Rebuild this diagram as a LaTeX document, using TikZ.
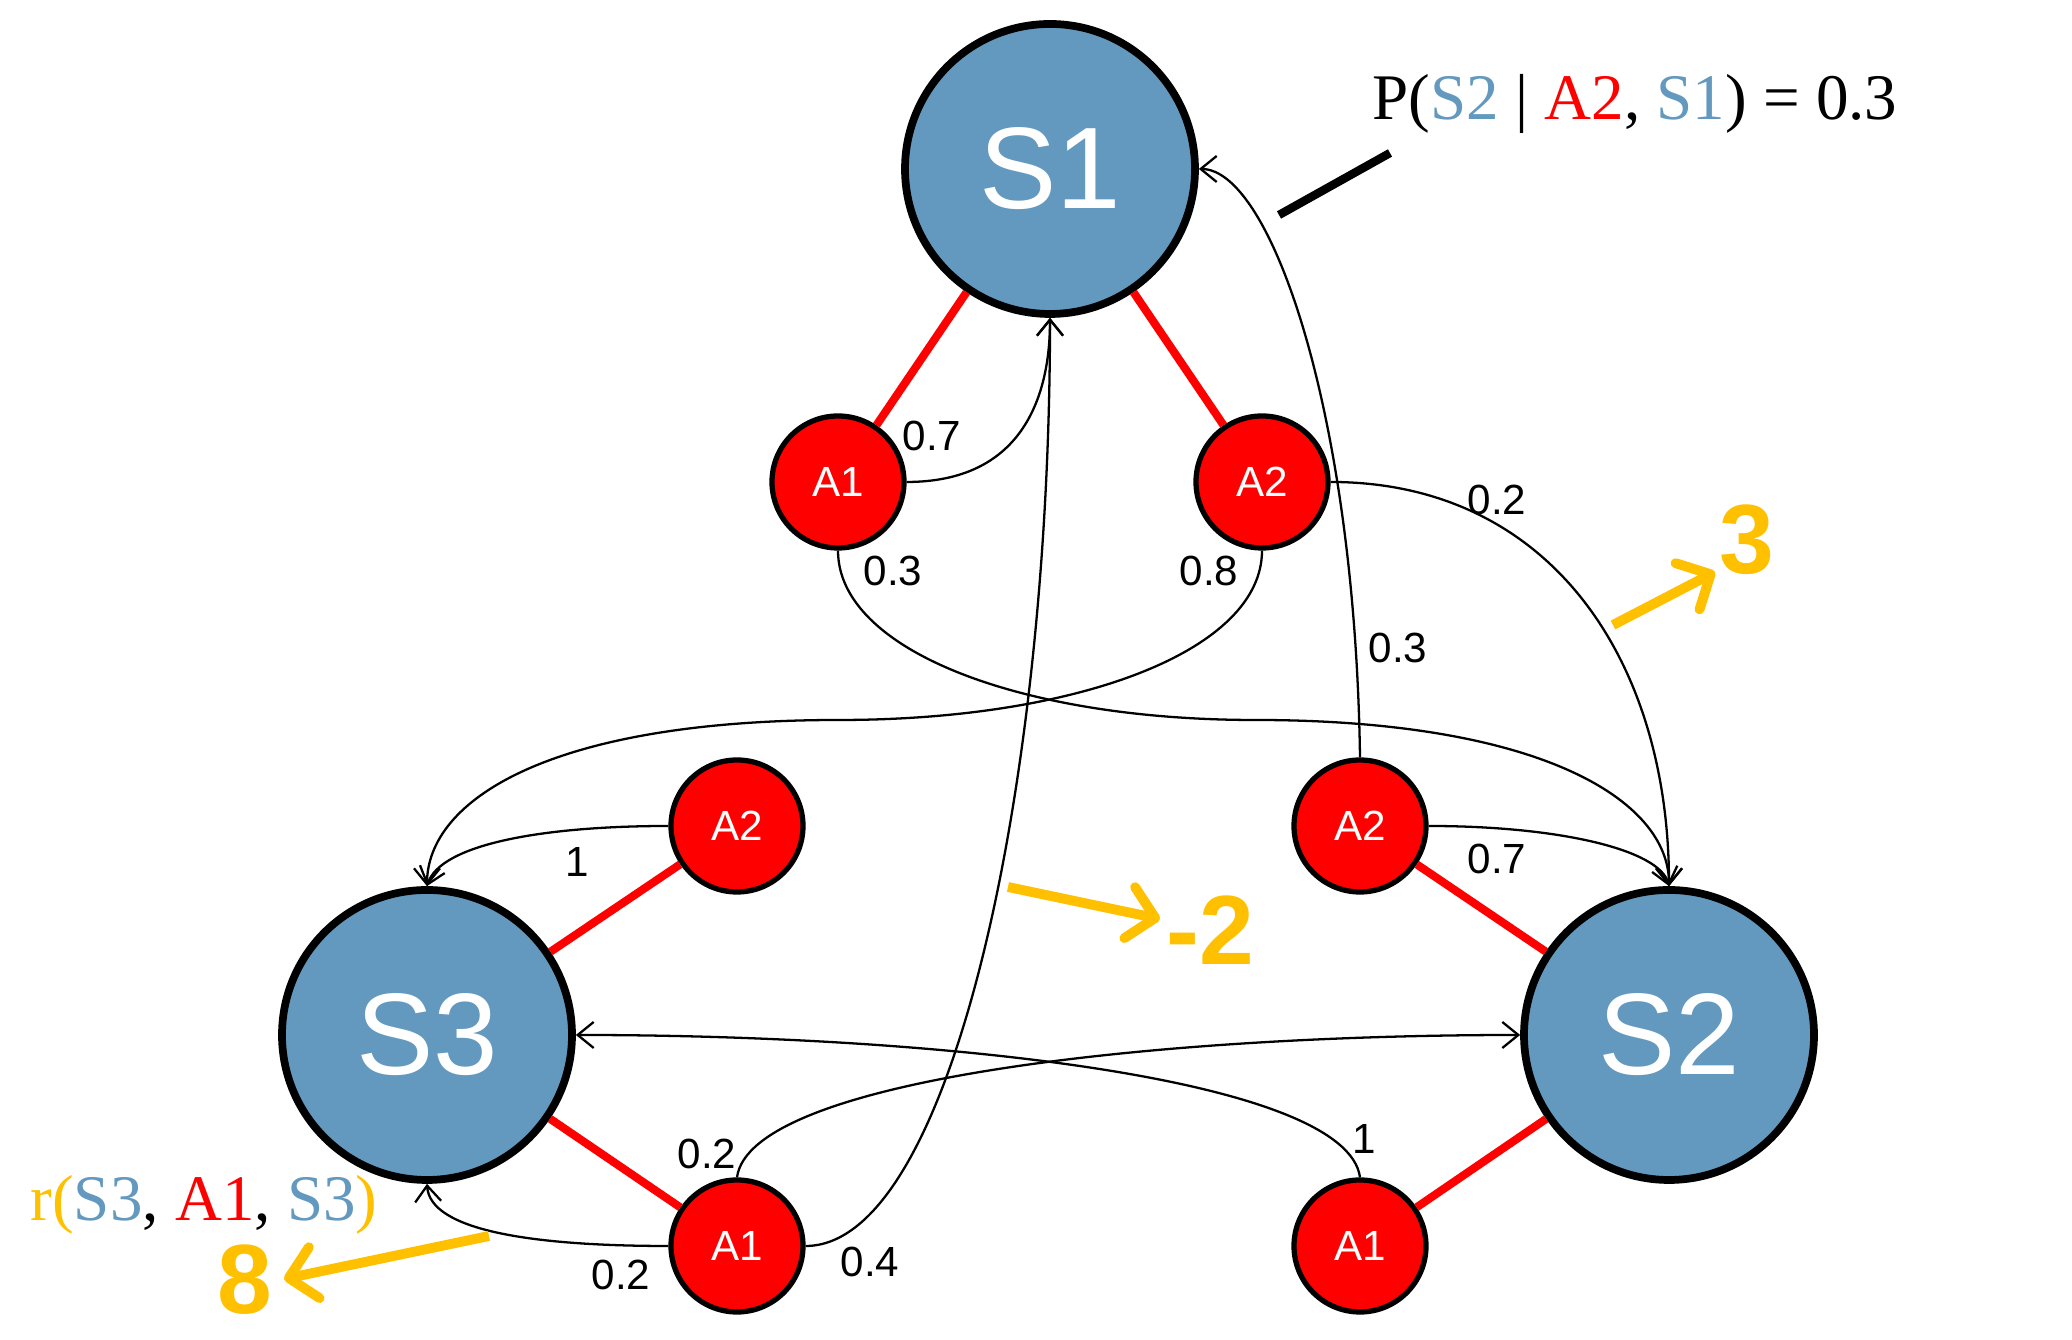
\documentclass[tikz,border=0pt]{standalone}
\usepackage{fontspec}
\setmainfont{Liberation Sans}
\newfontfamily\formulafont{Liberation Serif}
\usepackage{xcolor}
\usepackage{tikz}
\usetikzlibrary{arrows.meta,positioning}
\definecolor{stateblue}{RGB}{99,153,190}
\definecolor{actred}{RGB}{255,0,0}
\definecolor{rewardgold}{RGB}{255,192,0}

\begin{document}
\begin{tikzpicture}[
  state/.style={circle,draw,line width=2.2pt,fill=stateblue,text=white,minimum size=2.9cm,inner sep=0pt,font=\fontsize{33}{38}\selectfont},
  action/.style={circle,draw,line width=1.5pt,fill=actred,text=white,minimum size=1.32cm,inner sep=0pt,font=\fontsize{12}{14}\selectfont},
  choice/.style={actred,line width=2.3pt},
  trans/.style={line width=0.65pt,-{Straight Barb[length=1.6mm,width=2.6mm]}},
  prob/.style={font=\fontsize{12}{14}\selectfont},
  reward/.style={rewardgold,line width=2.8pt,-{Straight Barb[length=2.6mm,width=5.2mm,round]}},
  rval/.style={text=rewardgold,font=\fontsize{28}{32}\selectfont\bfseries},
  formula/.style={font=\formulafont\fontsize{18.5}{22}\selectfont}]
\useasboundingbox (0,0) rectangle (20.72,13.40);

\node[state] (s1) at (10.50,11.71) {S1};
\node[state] (s3) at (4.27,3.05) {S3};
\node[state] (s2) at (16.69,3.05) {S2};

\node[action] (a1t) at (8.38,8.58) {A1};
\node[action] (a2t) at (12.62,8.58) {A2};
\node[action] (a2l) at (7.37,5.14) {A2};
\node[action] (a1l) at (7.37,0.94) {A1};
\node[action] (a2r) at (13.60,5.14) {A2};
\node[action] (a1r) at (13.60,0.94) {A1};

\draw[choice] (s1) -- (a1t);
\draw[choice] (s1) -- (a2t);
\draw[choice] (s3) -- (a2l);
\draw[choice] (s3) -- (a1l);
\draw[choice] (s2) -- (a2r);
\draw[choice] (s2) -- (a1r);

% Transitions
\draw[trans] (a1t.east) .. controls (10.2,8.58) and (10.5,9.4) .. (s1.south);
\draw[trans] (a1t.south) .. controls (8.38,6.9) and (10.2,6.2) .. (12.55,6.2) .. controls (15.4,6.2) and (16.69,5.4) .. (s2.north);
\draw[trans] (a2t.south) .. controls (12.62,6.9) and (10.8,6.2) .. (8.39,6.2) .. controls (5.5,6.2) and (4.27,5.4) .. (s3.north);
\draw[trans] (a2t.east) .. controls (15.5,8.58) and (16.69,6.8) .. (s2.north);
\draw[trans] (a2r.north) .. controls (13.55,9.3) and (12.7,11.71) .. (s1.east);
\draw[trans] (a2r.east) .. controls (15.6,5.14) and (16.6,4.9) .. (s2.north);
\draw[trans] (a2l.west) .. controls (5.4,5.14) and (4.4,4.95) .. (s3.north);
\draw[trans] (a1l.north) .. controls (7.5,2.6) and (11.5,3.05) .. (s2.west);
\draw[trans] (a1l.west) .. controls (5.3,0.94) and (4.3,1.1) .. (s3.south);
\draw[trans] (a1l.east) .. controls (9.5,0.94) and (10.5,5.5) .. (s1.south);
\draw[trans] (a1r.north) .. controls (13.47,2.6) and (9.5,3.05) .. (s3.east);

% Probabilities
\node[prob] (p1) at (9.32,9.04) {0.7};
\node[prob] (p2) at (8.93,7.69) {0.3};
\node[prob] (p3) at (12.09,7.69) {0.8};
\node[prob] (p4) at (14.97,8.40) {0.2};
\node[prob] (p5) at (13.98,6.92) {0.3};
\node[prob] (p6) at (14.97,4.81) {0.7};
\node[prob] (p7) at (5.77,4.78) {1};
\node[prob] (p8) at (7.07,1.86) {0.2};
\node[prob] (p9) at (6.21,0.65) {0.2};
\node[prob] (p10) at (8.70,0.78) {0.4};
\node[prob] (p11) at (13.64,2.01) {1};

% Rewards
\coordinate (r3a) at (16.13,7.15);
\coordinate (r3b) at (17.15,7.68);
\draw[reward] (r3a) -- (r3b);
\node[rval] (r3) at (17.47,8.00) {3};
\coordinate (r2a) at (10.08,4.53);
\coordinate (r2b) at (11.60,4.21);
\draw[reward] (r2a) -- (r2b);
\node[rval] (r2) at (12.10,4.10) {-2};
\coordinate (r8a) at (4.89,1.04);
\coordinate (r8b) at (2.84,0.61);
\draw[reward] (r8a) -- (r8b);
\node[rval] (r8) at (2.45,0.60) {8};
\node[formula] (rlab) at (2.04,1.35) {\textcolor{rewardgold}{r(}\textcolor{stateblue}{S3}, \textcolor{actred}{A1}, \textcolor{stateblue}{S3}\textcolor{rewardgold}{)}};

% Callout
\coordinate (ctip) at (12.79,11.25);
\coordinate (cend) at (13.90,11.87);
\draw[line width=2.4pt] (ctip) -- (cend);
\node[formula] (pform) at (16.35,12.36) {P(\textcolor{stateblue}{S2} | \textcolor{actred}{A2}, \textcolor{stateblue}{S1}) = 0.3};
\end{tikzpicture}
\end{document}
